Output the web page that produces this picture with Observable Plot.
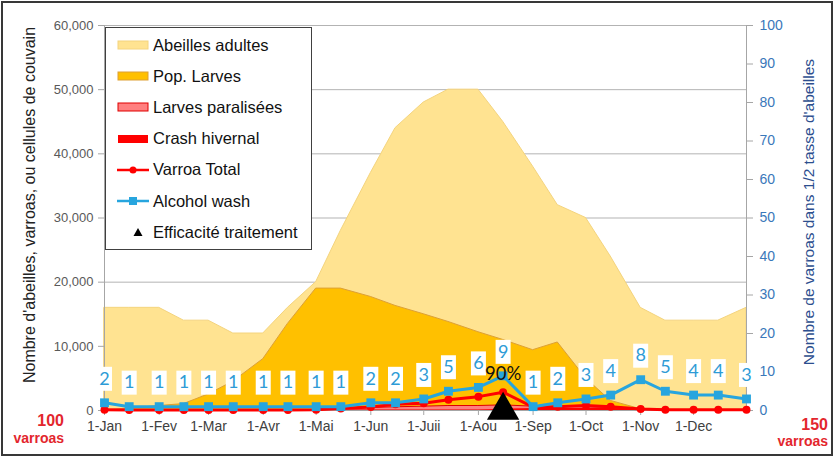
<!DOCTYPE html>
<html><head><meta charset="utf-8">
<script src="https://cdn.jsdelivr.net/npm/d3@7"></script>
<script src="https://cdn.jsdelivr.net/npm/@observablehq/plot@0.6"></script>
<style>
body{margin:0;background:#fff;}
#wrap{position:relative;width:834px;height:458px;overflow:hidden;font-family:"Liberation Sans",Arial,sans-serif;background:#fff;}
#wrap > svg{position:absolute;left:0;top:0;}
.frame{position:absolute;left:1px;top:1px;width:828px;height:451px;border:2px solid #383838;pointer-events:none;}
.vt{position:absolute;white-space:nowrap;transform:translate(-50%,-50%) rotate(-90deg);}
.legend{position:absolute;left:105px;top:27px;width:205px;height:221px;border:1px solid #404040;background:#fff;}
.row{position:absolute;left:0;height:20px;display:flex;align-items:center;font-size:16.5px;color:#111;white-space:nowrap;}
.row svg{flex:none;display:block;}
.red{position:absolute;color:#E3262D;font-weight:bold;text-align:right;}
</style></head><body><div id="wrap"></div>
<script>
// ---- data ----
const dates = ["2019-01-01","2019-01-15","2019-02-01","2019-02-15","2019-03-01","2019-03-15","2019-04-01","2019-04-15","2019-05-01","2019-05-15","2019-06-01","2019-06-15","2019-07-01","2019-07-15","2019-08-01","2019-08-15","2019-09-01","2019-09-15","2019-10-01","2019-10-15","2019-11-01","2019-11-15","2019-12-01","2019-12-15","2019-12-31"];
const abeillesAdultes = [16000,16000,16000,14000,14000,12000,12000,16000,20000,28000,37000,44000,48000,50000,50000,45000,38000,32000,30000,24000,16000,14000,14000,14000,16000];
const popLarves = [0,300,700,1000,2500,4500,8000,13500,19000,19000,17700,16300,15000,13800,12200,11000,9400,10600,5000,1500,200,0,0,0,0];
const larvesParalisees = [0,0,0,0,0,0,0,0,0,200,400,500,600,700,700,800,600,600,500,400,200,100,0,0,0];
const crashHivernal = [0,0,0,0,0,0,0,0,0,0,0,0,0,0,0,200,300,300,300,300,200,150,150,150,150];
const varroaTotal = [0.2,0.1,0.1,0.1,0.1,0.1,0.1,0.1,0.2,0.5,0.9,1.6,1.9,2.8,3.6,4.75,0.9,1.0,1.3,1.0,0.4,0.2,0.2,0.2,0.2];
const alcoholWash = [2,1,1,1,1,1,1,1,1,1,2,2,3,5,6,9,1,2,3,4,8,5,4,4,3];
const treatmentDate = "2019-08-15";
const treatmentLabel = "90%";
const monthDates = ["2019-01-01","2019-02-01","2019-03-01","2019-04-01","2019-05-01","2019-06-01","2019-07-01","2019-08-01","2019-09-01","2019-10-01","2019-11-01","2019-12-01"];
const monthLabels = ["1-Jan","1-Fev","1-Mar","1-Avr","1-Mai","1-Jun","1-Juii","1-Aou","1-Sep","1-Oct","1-Nov","1-Dec"];
const leftTicks = [0,10000,20000,30000,40000,50000,60000];
const rightTicks = [0,10,20,30,40,50,60,70,80,90,100];
const leftMax = 60000, rightMax = 100;
// -------------
const R = leftMax / rightMax;
const parse = s => new Date(s + "T00:00:00Z");
const rows = dates.map((d,i)=>({date:parse(d), ab:abeillesAdultes[i], lv:popLarves[i], lp:larvesParalisees[i], ch:crashHivernal[i], vt:varroaTotal[i]*R, aw:alcoholWash[i]*R, awLabel:String(alcoholWash[i])}));
const mDates = monthDates.map(parse);
const labelOf = new Map(mDates.map((d,i)=>[+d, monthLabels[i]]));
const blue = "#27A5DE", red = "#FF0000";
const x0 = parse(dates[0]), x1 = parse(dates[dates.length-1]);
const labelBox = {draw(ctx){ ctx.rect(-7.5,-12,15,24); }};

const chart = Plot.plot({
  width:834, height:458, marginLeft:104, marginRight:88, marginTop:25, marginBottom:48,
  style:{background:"transparent", fontFamily:"Liberation Sans, Arial, sans-serif"},
  x:{type:"utc", domain:[x0,x1]},
  y:{domain:[0,leftMax]},
  marks:[
    Plot.ruleY(leftTicks.filter(d=>d>0), {stroke:"#b3b3b3", strokeWidth:1}),
    Plot.areaY(rows,{x:"date", y:"ab", fill:"#FFE391", stroke:"#F4D47E", strokeWidth:1}),
    Plot.areaY(rows,{x:"date", y:"lv", fill:"#FFC000", stroke:"#DDA035", strokeWidth:1}),
    Plot.areaY(rows,{x:"date", y:"lp", fill:"#FF7F7F", stroke:"#E00000", strokeWidth:1}),
    Plot.areaY(rows,{x:"date", y:"ch", fill:"#FF0000"}),
    Plot.ruleX([x0],{y1:0, y2:leftMax, stroke:"#a6a6a6"}),
    Plot.ruleX([x1],{y1:0, y2:leftMax, stroke:"#a6a6a6"}),
    Plot.ruleY([0],{stroke:"#a6a6a6"}),
    Plot.axisY(leftTicks,{anchor:"left", tickFormat:d3.format(","), tickSize:6, tickPadding:5, stroke:"#a6a6a6", fill:"#595959", fontSize:13, label:null}),
    Plot.axisY(rightTicks.map(d=>d*R),{anchor:"right", tickFormat:d=>String(Math.round(d/R)), tickSize:6, tickPadding:7, stroke:"#a6a6a6", fill:"#3A78BA", fontSize:14, label:null}),
    Plot.axisX(mDates,{anchor:"bottom", tickFormat:d=>labelOf.get(+d), tickSize:5, tickPadding:6, stroke:"#a6a6a6", fill:"#404040", fontSize:14, label:null}),
    Plot.line(rows,{x:"date", y:"vt", stroke:red, strokeWidth:3}),
    Plot.dot(rows,{x:"date", y:"vt", fill:red, r:4}),
    Plot.line(rows,{x:"date", y:"aw", stroke:blue, strokeWidth:3}),
    Plot.dot(rows,{x:"date", y:"aw", fill:blue, symbol:"square", r:5}),
    Plot.dot([{date:parse(treatmentDate)}],{x:"date", y:()=>0, symbol:"triangle", fill:"#000", r:12}),
    Plot.dot(rows,{x:"date", y:"aw", symbol:labelBox, r:5, fill:"white", dy:-24}),
    Plot.text(rows,{x:"date", y:"aw", text:"awLabel", dy:-24, fontSize:18, fill:"#2E9BD6", fontFamily:"Lato, Open Sans, sans-serif"}),
    Plot.text([{date:parse(treatmentDate), v:(varroaTotal[dates.indexOf(treatmentDate)])*R}],{x:"date", y:"v", text:()=>treatmentLabel, dy:-18, fontSize:18.5, fill:"#111", fontFamily:"Lato, Liberation Sans, sans-serif"})
  ]
});
const wrap = document.getElementById("wrap");
wrap.appendChild(chart);

function add(html){ wrap.insertAdjacentHTML("beforeend", html); }
add(`<div class="vt" style="left:30px;top:205px;font-size:16px;color:#222;">Nombre d'abeilles, varroas, ou cellules de couvain</div>`);
add(`<div class="vt" style="left:809px;top:212px;font-size:15.5px;color:#2C4E8E;">Nombre de varroas dans 1/2 tasse d'abeilles</div>`);
add(`<div class="red" style="right:770px;top:412px;font-size:16px;line-height:17px;">100<br><span style="font-size:14px">varroas</span></div>`);
add(`<div class="red" style="right:6px;top:417px;font-size:16px;line-height:16px;">150<br><span style="font-size:14px">varroas</span></div>`);

const legendItems = [
  {label:"Abeilles adultes", sw:`<rect x="1" y="1" width="30" height="8" fill="#FFE391" stroke="#F4D47E"/>`},
  {label:"Pop. Larves", sw:`<rect x="1" y="1" width="30" height="8" fill="#FFC000" stroke="#DDA035"/>`},
  {label:"Larves paralisées", sw:`<rect x="1" y="1" width="30" height="8" fill="#FF7F7F" stroke="#E00000"/>`},
  {label:"Crash hivernal", sw:`<rect x="1" y="1" width="30" height="8" fill="#FF0000"/>`},
  {label:"Varroa Total", sw:`<line x1="0" y1="5" x2="32" y2="5" stroke="${red}" stroke-width="2.5"/><circle cx="16" cy="5" r="3.5" fill="${red}"/>`},
  {label:"Alcohol wash", sw:`<line x1="0" y1="5" x2="32" y2="5" stroke="${blue}" stroke-width="2.5"/><rect x="12" y="1" width="8" height="8" fill="${blue}"/>`},
  {label:"Efficacité traitement", sw:`<path d="M21,1 L25.5,9 L16.5,9 Z" fill="#000"/>`}
];
let lg = `<div class="legend">`;
legendItems.forEach((it,i)=>{
  lg += `<div class="row" style="top:${7 + i*31.2}px;"><svg width="32" height="10" style="margin-left:11px;margin-right:4px;">${it.sw}</svg><span>${it.label}</span></div>`;
});
lg += `</div>`;
add(lg);
add(`<div class="frame"></div>`);
</script></body></html>
